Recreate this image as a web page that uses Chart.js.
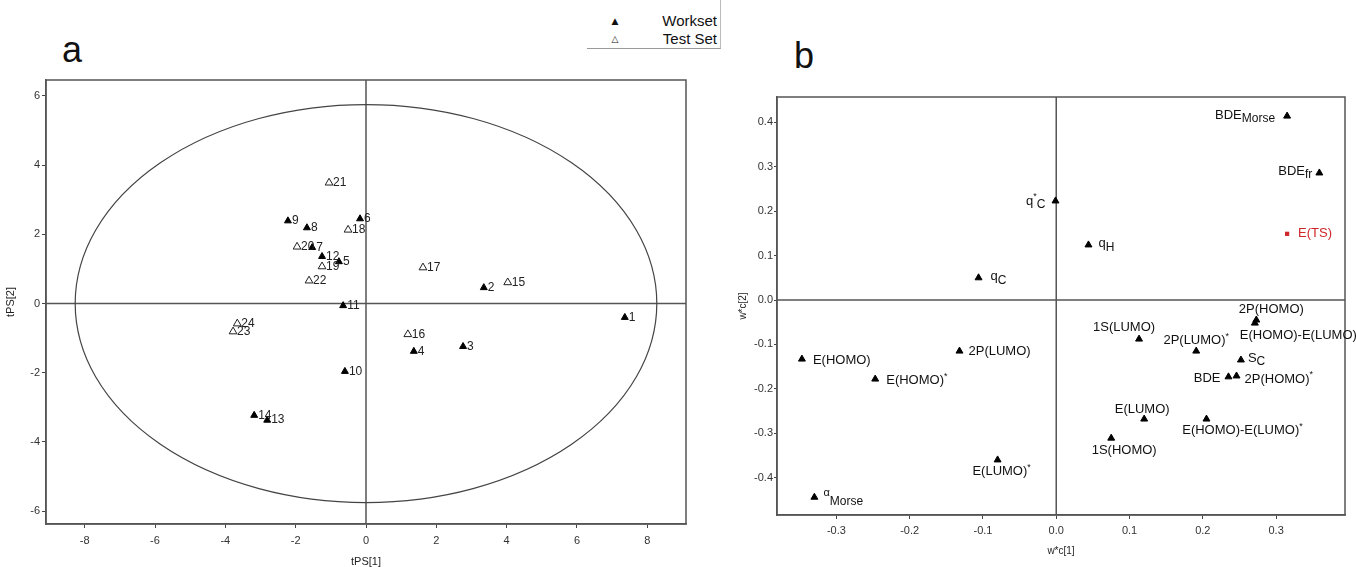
<!DOCTYPE html>
<html>
<head>
<meta charset="utf-8">
<script src="https://cdn.jsdelivr.net/npm/chart.js@4/dist/chart.umd.min.js"></script>
<style>
  body { margin: 0; background: #fff; width: 1356px; height: 567px; position: relative; overflow: hidden;
         font-family: 'Liberation Sans', Arial, sans-serif; color: #111; }
  canvas { position: absolute; top: 0; }
  #chart-a { left: 0; }
  #chart-b { left: 735px; }
  .tag { position: absolute; font-size: 36px; line-height: 36px; }
  .leg-mark { position: absolute; font-family: 'DejaVu Sans', sans-serif; font-size: 9px; line-height: 10px; width: 12px; text-align: center; }
  .leg-text { position: absolute; font-size: 15px; line-height: 16px; text-align: right; width: 80px; }
  .leg-box { position: absolute; left: 587px; top: 0; width: 133px; height: 48px; border-bottom: 1px solid #999; border-right: 1px solid #bbb; }
</style>
</head>
<body>
<div class="tag" style="left:62px; top:32px;">a</div>
<div class="tag" style="left:794px; top:38px;">b</div>

<div class="leg-box"></div>
<div class="leg-mark" style="left:609px; top:16px;">▲</div>
<div class="leg-text" style="left:637px; top:13px;">Workset</div>
<div class="leg-mark" style="left:609px; top:34px;">△</div>
<div class="leg-text" style="left:637px; top:31px;">Test Set</div>

<canvas id="chart-a" width="700" height="567"></canvas>
<canvas id="chart-b" width="621" height="567"></canvas>

<script>
'use strict';

/////////////////////
//// Data: panel a (scores)

const worksetIds = [1, 2, 3, 4, 5, 6, 7, 8, 9, 10, 11, 12, 13, 14];
const worksetX = [7.36, 3.35, 2.76, 1.36, -0.77, -0.17, -1.53, -1.68, -2.22, -0.60, -0.65, -1.25, -2.81, -3.18];
const worksetY = [-0.40, 0.46, -1.24, -1.38, 1.21, 2.45, 1.62, 2.19, 2.39, -1.96, -0.06, 1.36, -3.37, -3.23];

const testIds = [15, 16, 17, 18, 19, 20, 21, 22, 23, 24];
const testX = [4.03, 1.19, 1.62, -0.51, -1.25, -1.96, -1.05, -1.62, -3.78, -3.66];
const testY = [0.61, -0.89, 1.04, 2.13, 1.07, 1.64, 3.49, 0.66, -0.81, -0.58];

const ellipseRadii = [8.27, 5.75];   // Hotelling T2 limits on tPS[1], tPS[2]
const xTicksA = [-8, -6, -4, -2, 0, 2, 4, 6, 8];
const yTicksA = [-6, -4, -2, 0, 2, 4, 6];

/////////////////////
//// Data: panel b (loadings)

const loadNames = ['BDE', 'BDE', 'q', 'q', 'q', '2P(HOMO)', 'E(HOMO)-E(LUMO)', '1S(LUMO)', '2P(LUMO)',
  'S', 'BDE', '2P(HOMO)', 'E(LUMO)', 'E(HOMO)-E(LUMO)', '1S(HOMO)', 'E(HOMO)', 'E(HOMO)', '2P(LUMO)', 'E(LUMO)', ''];
const loadSups = ['', '', '*', '', '', '', '', '', '*',
  '', '', '*', '', '*', '', '', '*', '', '*', 'α'];
const loadSubs = ['Morse', 'fr', 'C', 'H', 'C', '', '', '', '',
  'C', '', '', '', '', '', '', '', '', '', 'Morse'];
const loadX = [0.315, 0.359, -0.001, 0.044, -0.106, 0.273, 0.271, 0.113, 0.191,
  0.252, 0.235, 0.246, 0.120, 0.205, 0.075, -0.347, -0.247, -0.132, -0.080, -0.330];
const loadY = [0.414, 0.286, 0.223, 0.124, 0.050, -0.045, -0.052, -0.088, -0.115,
  -0.135, -0.173, -0.171, -0.268, -0.268, -0.311, -0.133, -0.178, -0.115, -0.360, -0.444];

const tsName = 'E(TS)';
const tsX = [0.315];
const tsY = [0.149];

const xTicksB = [-0.3, -0.2, -0.1, 0, 0.1, 0.2, 0.3];
const yTicksB = [-0.4, -0.3, -0.2, -0.1, 0, 0.1, 0.2, 0.3, 0.4];

/////////////////////
//// Shared bits

const SANS = "'Liberation Sans', Arial, sans-serif";
const toPoints = (xs, ys) => xs.map((x, i) => ({ x: x, y: ys[i] }));

function axis(min, max, ticks, title, o) {
  return {
    type: 'linear',
    min: min,
    max: max,
    afterBuildTicks: s => { s.ticks = ticks.map(v => ({ value: v })); },
    afterFit: s => {
      if (s.isHorizontal()) s.height = o.size; else s.width = o.size;
    },
    grid: { drawOnChartArea: false, drawTicks: true, tickLength: o.tickLen, tickColor: '#444', lineWidth: 1 },
    border: { display: true, color: '#555', width: 1.5 },
    ticks: {
      autoSkip: false, maxRotation: 0, padding: o.pad, color: '#333',
      font: { family: SANS, size: 11 },
      callback: o.fmt
    },
    title: {
      display: true, text: title, color: '#222',
      font: { family: SANS, size: o.titleSize },
      padding: o.titlePad
    }
  };
}

// box around the plot, the two zero lines and (optional) ellipse
function framePlugin(ellipse) {
  return {
    id: 'frame',
    beforeDatasetsDraw(chart) {
      const { ctx, chartArea: a, scales } = chart;
      const x0 = scales.x.getPixelForValue(0);
      const y0 = scales.y.getPixelForValue(0);
      ctx.save();
      ctx.strokeStyle = '#555';
      ctx.lineWidth = 1.5;
      ctx.strokeRect(a.left, a.top, a.right - a.left, a.bottom - a.top);
      ctx.beginPath();
      ctx.moveTo(x0, a.top); ctx.lineTo(x0, a.bottom);
      ctx.moveTo(a.left, y0); ctx.lineTo(a.right, y0);
      ctx.stroke();
      if (ellipse) {
        const rx = scales.x.getPixelForValue(ellipse[0]) - x0;
        const ry = y0 - scales.y.getPixelForValue(ellipse[1]);
        ctx.strokeStyle = '#444';
        ctx.lineWidth = 1.2;
        ctx.beginPath();
        ctx.ellipse(x0, y0, rx, ry, 0, 0, Math.PI * 2);
        ctx.stroke();
      }
      ctx.restore();
    }
  };
}

/////////////////////
//// Panel a

const numberLabels = {
  id: 'numberLabels',
  afterDatasetsDraw(chart) {
    const ctx = chart.ctx;
    ctx.save();
    ctx.font = '12px ' + SANS;
    ctx.fillStyle = '#222';
    ctx.textBaseline = 'middle';
    ctx.textAlign = 'left';
    chart.data.datasets.forEach((ds, i) => {
      chart.getDatasetMeta(i).data.forEach((pt, j) => {
        ctx.fillText(String(ds.ids[j]), pt.x + 4, pt.y);
      });
    });
    ctx.restore();
  }
};

new Chart(document.getElementById('chart-a'), {
  type: 'scatter',
  data: {
    datasets: [{
      label: 'Workset',
      ids: worksetIds,
      data: toPoints(worksetX, worksetY),
      pointStyle: 'triangle',
      pointRadius: 4,
      backgroundColor: '#000',
      borderColor: '#000',
      borderWidth: 1
    }, {
      label: 'Test Set',
      ids: testIds,
      data: toPoints(testX, testY),
      pointStyle: 'triangle',
      pointRadius: 4.5,
      backgroundColor: '#fff',
      borderColor: '#222',
      borderWidth: 1
    }]
  },
  options: {
    responsive: false,
    animation: false,
    devicePixelRatio: 1,
    layout: { padding: { left: 0, top: 80, right: 14, bottom: 0 } },
    plugins: { legend: { display: false }, tooltip: { enabled: false } },
    scales: {
      x: axis(-9.1, 9.1, xTicksA, 'tPS[1]', { size: 43, tickLen: 4, pad: 6, titleSize: 11, titlePad: { top: 0, bottom: -2 } }),
      y: axis(-6.37, 6.46, yTicksA, 'tPS[2]', { size: 46, tickLen: 4, pad: 2, titleSize: 11, titlePad: { top: 4, bottom: 0 } })
    }
  },
  plugins: [framePlugin(ellipseRadii), numberLabels]
});

/////////////////////
//// Panel b

// where each loading label sits: [anchor, dx, dy] relative to the marker
const loadPlace = [
  ['right', -12, -1], ['right', -7, -2], ['right', -10, 0], ['left', 10, -1], ['left', 12, -1],
  ['center', 15, -11], ['left', -15, 12], ['center', -15, -12], ['center', 0, -11],
  ['left', 7, -2], ['right', -8, 2], ['left', 8, 3], ['center', -2, -10], ['center', 36, 11],
  ['center', 13, 12], ['left', 11, 1], ['left', 11, 1], ['left', 9, 0], ['center', 4, 12], ['left', 9, 0]
];

function drawRuns(ctx, x, y, anchor, main, sup, sub, color) {
  const runs = [
    { t: main, f: 13, dy: 0 },
    { t: sup, f: sup === 'α' ? 11 : 9, dy: -4 },
    { t: sub, f: 12, dy: 4 }
  ].filter(r => r.t);
  let total = 0;
  runs.forEach(r => { ctx.font = r.f + 'px ' + SANS; r.w = ctx.measureText(r.t).width; total += r.w; });
  let cx = anchor === 'left' ? x : anchor === 'right' ? x - total : x - total / 2;
  ctx.fillStyle = color;
  runs.forEach(r => {
    ctx.font = r.f + 'px ' + SANS;
    ctx.fillText(r.t, cx, y + r.dy);
    cx += r.w;
  });
}

const loadLabels = {
  id: 'loadLabels',
  afterDatasetsDraw(chart) {
    const ctx = chart.ctx;
    ctx.save();
    ctx.textBaseline = 'middle';
    ctx.textAlign = 'left';
    chart.getDatasetMeta(0).data.forEach((pt, j) => {
      const p = loadPlace[j];
      drawRuns(ctx, pt.x + p[1], pt.y + p[2], p[0], loadNames[j], loadSups[j], loadSubs[j], '#111');
    });
    chart.getDatasetMeta(1).data.forEach(pt => {
      drawRuns(ctx, pt.x + 11, pt.y, 'left', tsName, '', '', '#d0262a');
    });
    ctx.restore();
  }
};

new Chart(document.getElementById('chart-b'), {
  type: 'scatter',
  data: {
    datasets: [{
      label: 'Loadings',
      data: toPoints(loadX, loadY),
      pointStyle: 'triangle',
      pointRadius: 4,
      backgroundColor: '#000',
      borderColor: '#000',
      borderWidth: 1
    }, {
      label: tsName,
      data: toPoints(tsX, tsY),
      pointStyle: 'rect',
      pointRadius: 3,
      backgroundColor: '#d0262a',
      borderColor: '#d0262a',
      borderWidth: 0
    }]
  },
  options: {
    responsive: false,
    animation: false,
    devicePixelRatio: 1,
    layout: { padding: { left: 0, top: 97, right: 11, bottom: 0 } },
    plugins: { legend: { display: false }, tooltip: { enabled: false } },
    scales: {
      x: axis(-0.381, 0.394, xTicksB, 'w*c[1]', {
        size: 52, tickLen: 4, pad: 5, titleSize: 10, titlePad: { top: 0, bottom: 10 },
        fmt: v => v.toFixed(1)
      }),
      y: axis(-0.484, 0.457, yTicksB, 'w*c[2]', {
        size: 42, tickLen: 3, pad: 1, titleSize: 10, titlePad: { top: 2, bottom: 0 },
        fmt: v => v.toFixed(1)
      })
    }
  },
  plugins: [framePlugin(null), loadLabels]
});
</script>
</body>
</html>
